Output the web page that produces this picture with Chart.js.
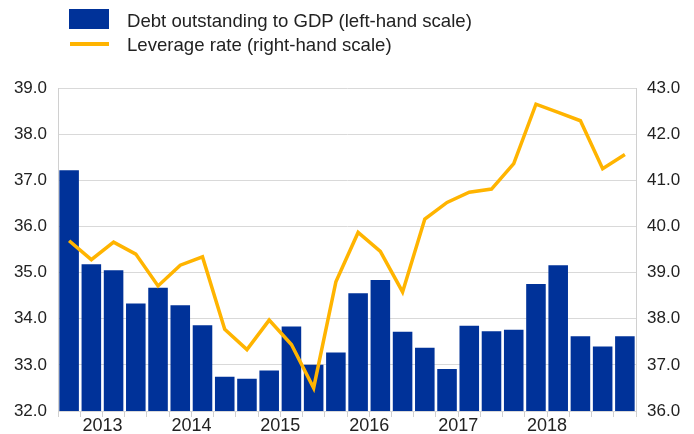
<!DOCTYPE html>
<html>
<head>
<meta charset="utf-8">
<script src="https://cdn.jsdelivr.net/npm/chart.js@4"></script>
<style>
  body { margin: 0; background: #fff; font-family: Arial, "Liberation Sans", sans-serif; }
  #wrap { position: relative; width: 694px; height: 434px; }
  .sw { position: absolute; }
  .lt { position: absolute; left: 127px; font-size: 18.6px; color: #222; white-space: nowrap; line-height: normal; }
</style>
</head>
<body>
<div id="wrap">
  <canvas id="c" width="694" height="434"></canvas>
  <div class="sw" style="left:69px;top:9px;width:40px;height:20px;background:#003299;"></div>
  <div class="lt" style="top:10px;">Debt outstanding to GDP (left-hand scale)</div>
  <div class="sw" style="left:70px;top:42px;width:39px;height:4px;background:#FFB400;"></div>
  <div class="lt" style="top:34px;">Leverage rate (right-hand scale)</div>
</div>
<script>
// quarters 2012Q3 .. 2018Q4
const quarters = ['2012Q3','2012Q4',
  '2013Q1','2013Q2','2013Q3','2013Q4',
  '2014Q1','2014Q2','2014Q3','2014Q4',
  '2015Q1','2015Q2','2015Q3','2015Q4',
  '2016Q1','2016Q2','2016Q3','2016Q4',
  '2017Q1','2017Q2','2017Q3','2017Q4',
  '2018Q1','2018Q2','2018Q3','2018Q4'];
const debtToGdp = [37.22, 35.18, 35.05, 34.33, 34.67, 34.29, 33.86, 32.74, 32.70, 32.88,
  33.83, 33.00, 33.27, 34.55, 34.84, 33.72, 33.37, 32.91, 33.85, 33.73,
  33.76, 34.75, 35.16, 33.62, 33.40, 33.62];
const leverageRate = [39.69, 39.28, 39.66, 39.40, 38.71, 39.16, 39.34, 37.77, 37.33, 37.97,
  37.44, 36.50, 38.80, 39.87, 39.46, 38.58, 40.16, 40.52, 40.74, 40.81,
  41.36, 42.65, 42.47, 42.29, 41.25, 41.56];
const leftTicks = [32, 33, 34, 35, 36, 37, 38, 39];
const rightTicks = [36, 37, 38, 39, 40, 41, 42, 43];

const family = 'Arial, "Liberation Sans", sans-serif';

new Chart(document.getElementById('c'), {
  data: {
    labels: quarters,
    datasets: [
      {
        type: 'line', label: 'Leverage rate (right-hand scale)', data: leverageRate,
        yAxisID: 'y1', borderColor: '#FFB400', borderWidth: 3.5, pointRadius: 0,
        tension: 0, order: 0
      },
      {
        type: 'bar', label: 'Debt outstanding to GDP (left-hand scale)', data: debtToGdp,
        yAxisID: 'y', backgroundColor: '#003299', borderWidth: 0,
        barPercentage: 0.88, categoryPercentage: 1.0, order: 1
      }
    ]
  },
  options: {
    responsive: false,
    animation: false,
    layout: { padding: { top: 88, left: 0, right: 0, bottom: 0 } },
    plugins: { legend: { display: false }, tooltip: { enabled: false } },
    scales: {
      x: {
        offset: true,
        grid: {
          offset: true, drawOnChartArea: false, drawTicks: true, tickLength: 6,
          color: '#d0d0d0'
        },
        border: { display: false },
        ticks: {
          autoSkip: false, maxRotation: 0, color: '#222', font: { family: family, size: 18 }, padding: -2,
          labelOffset: -11.1,
          callback: (v, i) => quarters[i].endsWith('Q1') ? quarters[i].slice(0, 4) : ''
        },
        afterFit: s => { s.height = 23; }
      },
      y: {
        position: 'left', min: 32, max: 39,
        afterBuildTicks: s => { s.ticks = leftTicks.map(v => ({ value: v })); },
        grid: { color: '#d9d9d9', drawTicks: false },
        border: { color: '#d0d0d0' },
        ticks: { color: '#222', font: { family: family, size: 17 }, padding: 11, callback: v => v.toFixed(1) },
        afterFit: s => { s.width = 58; }
      },
      y1: {
        position: 'right', min: 36, max: 43,
        afterBuildTicks: s => { s.ticks = rightTicks.map(v => ({ value: v })); },
        grid: { drawOnChartArea: false, drawTicks: false },
        border: { color: '#d0d0d0' },
        ticks: { color: '#222', font: { family: family, size: 17 }, padding: 11, callback: v => v.toFixed(1) },
        afterFit: s => { s.width = 58; }
      }
    }
  }
});
</script>
</body>
</html>
